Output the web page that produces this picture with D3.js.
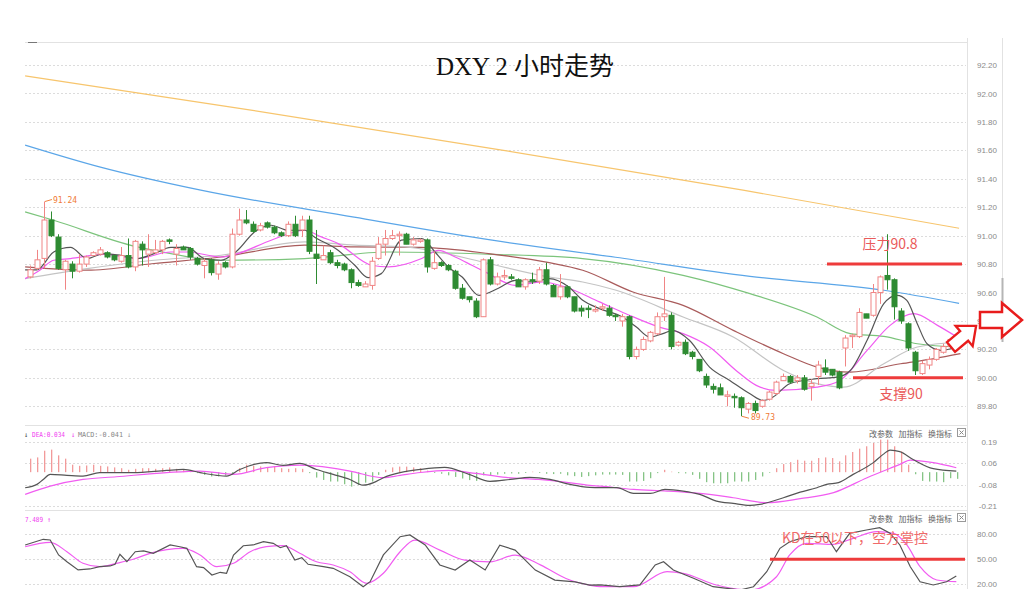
<!DOCTYPE html>
<html><head><meta charset="utf-8">
<script src="https://cdn.jsdelivr.net/npm/d3@7"></script>
<style>body{margin:0;background:#fff;}svg{display:block;}</style>
</head><body>
<svg id="c" width="1024" height="589"></svg>
<script>
// ---------- DATA ----------
const opens  = [90.71,90.77,90.84,91.11,90.99,90.76,90.80,90.75,90.80,90.86,90.87,90.88,90.86,90.82,90.86,90.78,90.94,90.87,90.88,90.90,90.97,90.87,90.92,90.91,90.84,90.79,90.83,90.73,90.81,90.78,91.01,91.11,91.08,91.04,91.09,91.06,91.02,91.00,91.08,91.04,91.11,90.87,90.83,90.88,90.81,90.80,90.76,90.67,90.64,90.65,90.84,90.94,90.98,91.00,91.01,90.94,90.96,90.97,90.77,90.81,90.79,90.75,90.63,90.57,90.54,90.43,90.83,90.66,90.71,90.71,90.69,90.64,90.69,90.68,90.76,90.65,90.57,90.64,90.57,90.49,90.49,90.47,90.49,90.49,90.44,90.40,90.43,90.15,90.20,90.26,90.31,90.43,90.44,90.23,90.25,90.18,90.13,90.01,89.94,89.93,89.87,89.87,89.86,89.78,89.82,89.80,89.85,89.89,89.98,90.01,89.98,90.00,89.94,90.01,90.07,90.06,90.04,90.21,90.29,90.29,90.45,90.44,90.60,90.72,90.69,90.47,90.38,90.18,90.03,90.09,90.13,90.18,90.22,90.29];
const highs  = [90.79,90.90,91.24,91.17,91.01,90.83,90.82,90.87,90.86,90.89,90.92,90.89,90.86,90.92,90.98,90.97,90.96,91.01,90.97,90.97,90.98,90.94,90.93,90.92,90.85,90.84,90.84,90.82,90.82,91.05,91.19,91.18,91.10,91.09,91.10,91.07,91.03,91.10,91.14,91.14,91.14,91.04,90.93,90.90,90.83,90.81,90.77,90.69,90.68,90.85,90.99,91.04,91.04,91.03,91.02,90.99,90.98,90.98,90.89,90.82,90.80,90.76,90.66,90.57,90.56,90.84,90.85,90.74,90.76,90.73,90.70,90.70,90.74,90.78,90.81,90.66,90.73,90.65,90.57,90.51,90.51,90.51,90.52,90.51,90.45,90.45,90.44,90.22,90.29,90.33,90.46,90.71,90.46,90.26,90.27,90.19,90.13,90.03,89.96,89.96,89.91,89.89,89.87,89.83,89.84,89.85,89.91,89.98,90.03,90.02,90.02,90.02,89.99,90.12,90.13,90.06,90.05,90.30,90.31,90.49,90.45,90.66,90.72,91.01,90.70,90.49,90.39,90.19,90.12,90.15,90.21,90.24,90.28,90.30];
const lows   = [90.70,90.76,90.77,90.99,90.76,90.62,90.70,90.74,90.78,90.86,90.86,90.84,90.82,90.81,90.77,90.75,90.79,90.78,90.87,90.87,90.94,90.79,90.90,90.83,90.79,90.70,90.72,90.69,90.77,90.77,91.00,91.08,91.02,91.03,91.05,91.01,90.99,90.99,90.99,90.99,90.87,90.66,90.83,90.80,90.77,90.75,90.63,90.64,90.64,90.62,90.83,90.86,90.97,90.86,90.94,90.93,90.95,90.74,90.76,90.78,90.75,90.62,90.55,90.53,90.42,90.43,90.65,90.65,90.69,90.69,90.64,90.62,90.66,90.66,90.65,90.57,90.55,90.56,90.46,90.43,90.42,90.46,90.47,90.43,90.40,90.36,90.13,90.13,90.19,90.25,90.30,90.40,90.20,90.22,90.16,90.13,90.04,89.93,89.89,89.88,89.80,89.79,89.73,89.75,89.75,89.79,89.84,89.88,89.98,89.96,89.96,89.91,89.84,89.95,90.02,90.01,89.92,90.08,90.21,90.28,90.42,90.43,90.52,90.62,90.41,90.38,90.19,90.02,90.02,90.06,90.12,90.17,90.21,90.21];
const closes = [90.76,90.83,91.11,91.00,90.77,90.82,90.75,90.80,90.85,90.88,90.90,90.85,90.83,90.86,90.78,90.96,90.90,90.90,90.90,90.96,90.96,90.91,90.90,90.85,90.80,90.82,90.74,90.80,90.78,91.01,91.11,91.09,91.03,91.07,91.06,91.02,91.00,91.08,91.00,91.11,90.89,90.84,90.86,90.81,90.79,90.76,90.67,90.65,90.66,90.82,90.94,90.98,91.00,91.01,90.94,90.97,90.97,90.78,90.81,90.79,90.76,90.63,90.56,90.55,90.43,90.83,90.66,90.71,90.72,90.70,90.64,90.69,90.68,90.76,90.66,90.57,90.64,90.57,90.47,90.47,90.48,90.48,90.50,90.44,90.43,90.43,90.15,90.20,90.27,90.32,90.43,90.45,90.22,90.25,90.17,90.15,90.05,89.95,89.92,89.88,89.88,89.86,89.79,89.82,89.77,89.84,89.90,89.97,90.01,89.97,90.00,89.92,89.96,90.09,90.04,90.02,89.93,90.28,90.30,90.46,90.42,90.60,90.71,90.69,90.50,90.40,90.21,90.05,90.10,90.13,90.20,90.22,90.27,90.22];

// moving averages: [candle index, price]
const ma5   = [[-0.7,90.76],[1,90.76],[3.4,90.885],[5.8,90.917],[8.2,90.839],[10.6,90.874],[13,90.862],[15.4,90.839],[17.8,90.874],[20.2,90.917],[22.6,90.917],[25,90.839],[27.4,90.827],[29.8,90.897],[32.2,91.026],[34.6,91.073],[37,91.038],[39.4,91.038],[40.8,90.991],[44.2,90.897],[46.6,90.792],[48.5,90.705],[50.4,90.733],[53.3,90.968],[56.2,90.98],[58.1,90.885],[60,90.78],[62,90.709],[64.4,90.58],[67.2,90.63],[69.6,90.686],[72,90.674],[74.5,90.698],[77.3,90.639],[79.3,90.545],[81.7,90.487],[85,90.428],[87,90.357],[88.9,90.287],[90.8,90.311],[92.2,90.334],[94.6,90.264],[97.5,90.076],[100.4,89.982],[103.3,89.888],[105.2,89.841],[106.6,89.865],[109,89.959],[112.9,89.994],[115.8,90.005],[117.7,90.052],[120.1,90.264],[122.5,90.522],[124.4,90.58],[125.8,90.545],[127.3,90.381],[128.7,90.24],[130.7,90.193],[133,90.217]];
const ma10  = [[-0.7,90.698],[1.4,90.757],[3.4,90.827],[5.8,90.839],[10.6,90.869],[15.4,90.839],[20.2,90.885],[22.6,90.885],[27.4,90.85],[29.8,90.874],[34.6,90.968],[39.4,91.038],[41.8,90.991],[44.2,90.944],[49,90.792],[51.4,90.78],[56.2,90.839],[58.6,90.897],[61,90.85],[63.4,90.792],[65.5,90.74],[69.6,90.651],[73.5,90.674],[76.8,90.639],[81.7,90.534],[85.5,90.451],[90.3,90.357],[93.7,90.311],[97.5,90.217],[101.3,90.052],[104.2,89.947],[107.1,89.912],[112.9,89.935],[116.2,89.982],[120.1,90.193],[123.4,90.369],[126.8,90.451],[130.2,90.369],[133,90.287]];
const ma20  = [[-0.7,90.698],[8.2,90.768],[17.8,90.827],[27.4,90.862],[39.4,90.956],[46.6,90.933],[53.8,90.921],[58.6,90.885],[65.8,90.804],[74.5,90.709],[79.3,90.674],[84.1,90.616],[93.7,90.428],[100.9,90.287],[108.1,90.052],[112.9,89.959],[116.7,89.935],[122.5,90.099],[127.3,90.217],[133.5,90.252]];
const ma30  = [[-0.7,90.78],[8.2,90.757],[17.8,90.804],[27.4,90.85],[39.4,90.933],[46.6,90.921],[56.2,90.917],[65.8,90.874],[74.5,90.81],[79.3,90.757],[86.5,90.604],[93.7,90.51],[100.9,90.334],[108.1,90.17],[112.9,90.076],[117.7,90.041],[124.9,90.099],[129.7,90.135],[133.5,90.17]];
const ma60  = [[-0.7,91.167],[3.4,91.108],[15.4,90.921],[17.8,90.897],[27.4,90.827],[39.4,90.839],[51.4,90.885],[66.3,90.869],[79.3,90.839],[93.7,90.721],[103.3,90.592],[112.9,90.428],[117.7,90.311],[122.5,90.292],[127.3,90.24],[133.5,90.217]];
const ma120 = [[-0.7,91.637],[10.1,91.482],[24.5,91.32],[46.5,91.13],[66.3,90.968],[84,90.848],[103.3,90.714],[122.5,90.616],[133.3,90.524]];
const ma250 = [[-0.7,92.123],[31.7,91.883],[67.7,91.602],[102.3,91.32],[133.3,91.052]];

const macdHist = [0.085,0.093,0.135,0.142,0.106,0.085,0.047,0.040,0.042,0.047,0.040,0.036,0.030,0.025,0.015,0.021,0.025,0.025,0.021,0.025,0.030,0.021,0.015,0.008,-0.006,-0.017,-0.027,-0.027,-0.021,-0.005,0.025,0.047,0.040,0.036,0.030,0.036,0.025,0.021,0.025,0.021,-0.006,-0.034,-0.049,-0.059,-0.059,-0.076,-0.091,-0.080,-0.066,-0.059,-0.017,0.015,0.030,
 0.035,0.035,0.03,0.025,0.01,-0.005,-0.01,-0.02,-0.03,-0.04,-0.05,-0.055,-0.02,-0.02,-0.015,-0.01,-0.008,-0.01,-0.005,0.003,-0.005,-0.01,-0.012,-0.01,-0.02,-0.025,-0.03,-0.025,-0.02,
 -0.015,-0.015,-0.015,-0.017,-0.059,-0.059,-0.055,-0.038,-0.006,0.015,0.003,-0.006,-0.008,-0.017,-0.042,-0.063,-0.07,-0.07,-0.07,-0.059,-0.059,-0.059,-0.049,-0.027,-0.004,0.025,0.051,0.063,0.078,0.072,0.072,0.089,0.093,0.089,0.068,0.106,0.127,0.148,0.163,0.184,0.205,0.205,0.163,0.131,0.047,-0.013,-0.055,-0.059,-0.059,-0.063,-0.038,-0.042];
const dif = [[-0.7,-0.098],[1,-0.077],[1.9,-0.046],[2.9,-0.014],[5.3,-0.02],[7.6,-0.025],[10,-0.003],[14.8,-0.003],[19.6,0.011],[22,0.017],[24.4,-0.003],[26.8,-0.02],[28.2,-0.025],[30.1,0.017],[33.9,0.06],[36.3,0.043],[38.7,0.055],[41.1,0.017],[43.5,-0.014],[45.9,-0.046],[47.8,-0.082],[49.3,-0.066],[50.7,-0.035],[53.1,-0.003],[56,0.017],[59.5,0.03],[63,-0.014],[66,-0.058],[68.9,-0.046],[71.7,-0.033],[74.6,-0.046],[77.5,-0.077],[80.3,-0.096],[81.8,-0.098],[84.2,-0.098],[86.6,-0.134],[89,-0.134],[91.1,-0.109],[93.7,-0.119],[96.1,-0.14],[98.5,-0.182],[100.9,-0.197],[103.3,-0.209],[104.7,-0.203],[108.1,-0.161],[110.5,-0.126],[112.9,-0.098],[114.3,-0.077],[116,-0.066],[118.1,-0.014],[121,0.06],[122.4,0.112],[123.4,0.139],[124.8,0.129],[126.7,0.08],[129.6,0.022],[132.9,0.007]];
const dea = [[-0.7,-0.14],[2.9,-0.088],[7.6,-0.046],[12.4,-0.029],[19.6,-0.003],[24.4,0.007],[29.2,-0.014],[33.9,0.028],[38.7,0.044],[41.1,0.038],[45.9,0.007],[50.7,-0.035],[53.1,-0.02],[56,-0.002],[60,0.011],[64,-0.008],[68.3,-0.033],[73,-0.046],[77,-0.064],[80.3,-0.083],[81.8,-0.088],[86.6,-0.109],[91.4,-0.119],[96.1,-0.134],[100.9,-0.161],[105.7,-0.192],[110.5,-0.167],[115.3,-0.129],[120.1,-0.035],[124.8,0.049],[126.3,0.076],[129.6,0.06],[132.9,0.028]];
const kLine = [[-0.7,67.2],[1.9,74],[2.9,73.2],[4.1,55.2],[5.3,47.1],[6.9,37.2],[8.6,38.4],[10,41.1],[11.5,42],[12.2,44],[12.9,56],[13.9,47.1],[15.1,59.1],[16.3,60],[17.7,57.2],[20.1,67.2],[21.5,65.1],[22.5,63.2],[23.9,41.1],[24.9,40],[26.1,31.2],[27.3,34.4],[28.2,33.2],[29.2,55.2],[30.6,66.3],[32,67.2],[33.5,71.1],[34.9,69.2],[35.9,63.9],[36.8,66.3],[38,49.2],[39,52],[39.9,44],[42.1,41.1],[43.5,39.2],[45.9,29.1],[47.8,17.1],[48.8,23.1],[50.7,55.2],[53.1,77.1],[54.5,79.2],[56.7,67.2],[58.8,43.2],[61,37.2],[63.1,49.2],[65.3,37.2],[67.4,67],[69.6,61],[72.5,37],[75.3,25],[78.2,23],[80.3,19],[81.8,19.2],[84.6,17.1],[87.5,19.2],[89.7,43.2],[90.9,47.1],[92.3,37.2],[95.2,27.2],[98,17.1],[101.9,13.2],[103.8,17.1],[105.7,35.1],[107.6,63.2],[109,71.1],[111.4,77.1],[114.3,77.1],[115.7,59.1],[117.6,81.2],[120,85.2],[121.9,87.9],[123.4,81.2],[124.8,67.2],[126.3,41.1],[127.7,23.1],[129.6,19.2],[131.5,23.1],[132.9,30]];
const dLine = [[-0.7,65.1],[2.9,70.4],[5.3,59.1],[7.6,45.2],[10,41.1],[12.4,45.2],[14.8,50],[17.2,57.2],[22,63.2],[24.4,55.2],[26.8,41.1],[29.2,45.2],[31.6,59.1],[33.9,65.1],[36.3,66.3],[38.7,57.2],[41.1,47.1],[43.5,43.2],[45.9,35.1],[48.3,21.2],[50.7,33.2],[53.1,59.1],[55.2,73],[58.8,61],[62.4,49],[66,47],[69.6,55],[73.3,43],[76.9,27],[80.3,19],[81.8,17.1],[86.6,17.1],[91.4,35.1],[93.7,33.2],[98.5,19.2],[103.3,13.2],[107.1,29.1],[109,55.2],[111.4,69.2],[115.3,68],[118.1,75.2],[121.5,83.1],[123.9,81.2],[125.8,67.2],[127.7,41.1],[130.1,25.2],[132.9,23.1]];

const priceTicks = [92.2,92.0,91.8,91.6,91.4,91.2,91.0,90.8,90.6,90.4,90.2,90.0,89.8];
const macdTicks = [0.19,0.06,-0.08,-0.21];
const kdTicks = [80,50,20];
const title = "DXY 2 小时走势";
const notes = {resist:"压力90.8", support:"支撑90", kd:"KD在50以下，空方掌控", hi:"91.24", lo:"89.73"};
const buttons = ["改参数","加指标","换指标"];
const resistLevel = 90.8, supportLevel = 90.0, kdLevel = 50;

// ---------- DRAW ----------
const svg = d3.select('#c');
const x = d3.scaleLinear().domain([0,133]).range([30,957]);
const yP = d3.scaleLinear().domain([89.8,92.2]).range([406.3,65]);
const yM = d3.scaleLinear().domain([-0.21,0.19]).range([505.5,442]);
const yK = d3.scaleLinear().domain([20,80]).range([584.3,534.3]);
const L = 25, R = 966;

const defs = svg.append('defs');
[['cm',42,424],['cd',426,510],['ck',512,589]].forEach(([id,t,b])=>{
  defs.append('clipPath').attr('id',id).append('rect').attr('x',L).attr('y',t).attr('width',R-L).attr('height',b-t);
});

// frame lines
const fr = svg.append('g').attr('stroke','#e2e2e2').attr('fill','none');
fr.append('line').attr('x1',L).attr('x2',967).attr('y1',42.5).attr('y2',42.5);
fr.append('line').attr('x1',L).attr('x2',967).attr('y1',425.5).attr('y2',425.5);
fr.append('line').attr('x1',L).attr('x2',967).attr('y1',510.5).attr('y2',510.5);
fr.append('line').attr('x1',967.5).attr('x2',967.5).attr('y1',38).attr('y2',589);
fr.append('line').attr('x1',1002.5).attr('x2',1002.5).attr('y1',38).attr('y2',342);
svg.append('line').attr('x1',1002.5).attr('x2',1002.5).attr('y1',278).attr('y2',342).attr('stroke','#b5b5b5').attr('stroke-width',2);
svg.append('line').attr('x1',28).attr('x2',37).attr('y1',42.5).attr('y2',42.5).attr('stroke','#777');

// grids
function grid(ticks, sc){
  svg.append('g').selectAll('line').data(ticks).join('line')
    .attr('x1',L).attr('x2',R).attr('y1',d=>Math.round(sc(d))+0.5).attr('y2',d=>Math.round(sc(d))+0.5)
    .attr('stroke','#dcdcdc').attr('stroke-dasharray','2,2');
}
grid(priceTicks,yP); grid(macdTicks,yM); grid(kdTicks,yK);

// axes (labels right-aligned)
function axis(sc, ticks, fmt){
  const g = svg.append('g').attr('transform','translate(997,0)')
    .call(d3.axisLeft(sc).tickValues(ticks).tickSize(0).tickPadding(0).tickFormat(fmt));
  g.select('.domain').remove();
  g.selectAll('text').attr('fill','#8a8a8a').style('font-family','"Liberation Sans",Arial,sans-serif').style('font-size','8px');
}
axis(yP, priceTicks, d3.format('.2f'));
axis(yM, macdTicks, d=>d3.format('.2f')(d).replace('−','-'));
axis(yK, kdTicks, d3.format('.2f'));

// title
svg.append('text').attr('x',525).attr('y',75).attr('text-anchor','middle')
  .style('font-family','"Liberation Serif","Noto Sans CJK SC",serif').style('font-size','25px').attr('fill','#111').text(title);

// MA lines
const mg = svg.append('g').attr('clip-path','url(#cm)').attr('fill','none');
const ln = (sc,curve)=>d3.line().x(d=>x(d[0])).y(d=>sc(d[1])).curve(curve||d3.curveMonotoneX);
[[ma250,'#f7c56d'],[ma120,'#5ba6e8'],[ma60,'#7cc47c'],[ma30,'#a95b5b'],[ma20,'#c4c4c4'],[ma10,'#f15cf1'],[ma5,'#555555']]
  .forEach(([d,c])=>mg.append('path').datum(d).attr('d',ln(yP)).attr('stroke',c).attr('stroke-width',1.2));

// candles
const idx = d3.range(opens.length);
const cg = svg.append('g').attr('clip-path','url(#cm)');
const upC = '#f08585', dnC = '#2e8b32';
cg.selectAll('line.w').data(idx).join('line').attr('class','w')
  .attr('x1',i=>Math.round(x(i))+0.5).attr('x2',i=>Math.round(x(i))+0.5)
  .attr('y1',i=>yP(highs[i])).attr('y2',i=>yP(lows[i]))
  .attr('stroke',i=>closes[i]>=opens[i]?upC:dnC).attr('stroke-width',1);
cg.selectAll('rect.b').data(idx).join('rect').attr('class','b')
  .attr('x',i=>Math.round(x(i))-2).attr('width',5)
  .attr('y',i=>yP(Math.max(opens[i],closes[i])))
  .attr('height',i=>Math.max(1,Math.abs(yP(opens[i])-yP(closes[i]))))
  .attr('fill',i=>closes[i]>=opens[i]?'#fff':dnC)
  .attr('stroke',i=>closes[i]>=opens[i]?upC:dnC).attr('stroke-width',1);

// high / low labels
const hiI = 2, loI = 102;
svg.append('line').attr('x1',x(hiI)+1).attr('y1',yP(highs[hiI])).attr('x2',x(hiI)+8).attr('y2',yP(highs[hiI])-2).attr('stroke','#f08040');
svg.append('text').attr('x',x(hiI)+9).attr('y',yP(highs[hiI])+1).text(notes.hi)
  .attr('fill','#f07a35').style('font-family','"DejaVu Sans Mono",monospace').style('font-size','8px');
svg.append('line').attr('x1',x(loI)+1).attr('y1',yP(lows[loI])).attr('x2',x(loI)+8).attr('y2',yP(lows[loI])+2).attr('stroke','#f08040');
svg.append('text').attr('x',x(loI)+10).attr('y',yP(lows[loI])+4).text(notes.lo)
  .attr('fill','#f07a35').style('font-family','"DejaVu Sans Mono",monospace').style('font-size','8px');

// MACD
const dg = svg.append('g').attr('clip-path','url(#cd)');
dg.selectAll('rect').data(idx).join('rect')
  .attr('x',i=>Math.round(x(i))).attr('width',1.3)
  .attr('y',i=>Math.min(yM(0),yM(macdHist[i]))).attr('height',i=>Math.abs(yM(macdHist[i])-yM(0)))
  .attr('fill',i=>macdHist[i]>=0?'#f29a9a':'#86c486');
dg.append('path').datum(dea).attr('d',ln(yM)).attr('fill','none').attr('stroke','#f15cf1').attr('stroke-width',1.2);
dg.append('path').datum(dif).attr('d',ln(yM)).attr('fill','none').attr('stroke','#555').attr('stroke-width',1.2);

// KD
const kg = svg.append('g').attr('clip-path','url(#ck)');
kg.append('path').datum(dLine).attr('d',ln(yK)).attr('fill','none').attr('stroke','#f15cf1').attr('stroke-width',1.2);
kg.append('path').datum(kLine).attr('d',ln(yK,d3.curveLinear)).attr('fill','none').attr('stroke','#555').attr('stroke-width',1.2);

// panel headers
const mono = '"DejaVu Sans Mono",monospace';
const hdr = svg.append('g').style('font-family',mono).style('font-size','7px');
const ht = (xx,yy,fill,t,len)=>{const e=hdr.append('text').attr('x',xx).attr('y',yy).attr('fill',fill).text(t);
  if(len) e.attr('textLength',len).attr('lengthAdjust','spacingAndGlyphs'); return e;};
ht(24,437,'#444','↓');
ht(32,437,'#f040f0','DEA:0.034',33);
ht(71,437,'#f040f0','↓');
ht(78,437,'#888','MACD:-0.041',45);
ht(127,437,'#999','↓');
ht(25,522,'#f040f0','7.489',18);
ht(47,522,'#f040f0','↑');
[437,522].forEach(yy=>{
  buttons.forEach((b,k)=>svg.append('text').attr('x',869+k*29.5).attr('y',yy).attr('fill','#666')
    .style('font-family','"Noto Sans CJK SC",sans-serif').style('font-size','8px').text(b));
  svg.append('rect').attr('x',957.5).attr('y',yy-8.5).attr('width',8).attr('height',8).attr('fill','#fff').attr('stroke','#999');
  svg.append('path').attr('d',`M959.5,${yy-6.5}L963.5,${yy-2.5}M963.5,${yy-6.5}L959.5,${yy-2.5}`).attr('stroke','#888');
});

// annotations
const red = '#ee3b3b';
svg.append('line').attr('x1',827).attr('x2',962).attr('y1',yP(resistLevel)).attr('y2',yP(resistLevel)).attr('stroke',red).attr('stroke-width',3);
svg.append('line').attr('x1',853).attr('x2',963).attr('y1',yP(supportLevel)).attr('y2',yP(supportLevel)).attr('stroke',red).attr('stroke-width',3);
svg.append('line').attr('x1',770).attr('x2',965).attr('y1',yK(kdLevel)).attr('y2',yK(kdLevel)).attr('stroke',red).attr('stroke-width',3);
const cjk = '"Noto Sans CJK SC",sans-serif';
svg.append('text').attr('x',890).attr('y',yP(resistLevel)-15).attr('text-anchor','middle').attr('fill','#ea5a5a')
  .style('font-family',cjk).style('font-size','14px').text(notes.resist);
svg.append('text').attr('x',901).attr('y',yP(supportLevel)+21).attr('text-anchor','middle').attr('fill','#ea5a5a')
  .style('font-family',cjk).style('font-size','14px').text(notes.support);
svg.append('text').attr('x',855).attr('y',yK(kdLevel)-16).attr('text-anchor','middle').attr('fill','#f06a6a')
  .style('font-family',cjk).style('font-size','14px').text(notes.kd);

// block arrows
const arrowD = 'M0,-8L22,-8L22,-17L42,0L22,17L22,8L0,8Z';
svg.append('path').attr('d',arrowD).attr('transform','translate(980,320)')
  .attr('fill','#fff').attr('stroke','#e81c1c').attr('stroke-width',2.5).attr('stroke-linejoin','miter');
svg.append('path').attr('d',arrowD).attr('transform','translate(951,347) rotate(-40) scale(0.78)')
  .attr('fill','#fff').attr('stroke','#e81c1c').attr('stroke-width',3).attr('stroke-linejoin','miter');
</script>
</body></html>
